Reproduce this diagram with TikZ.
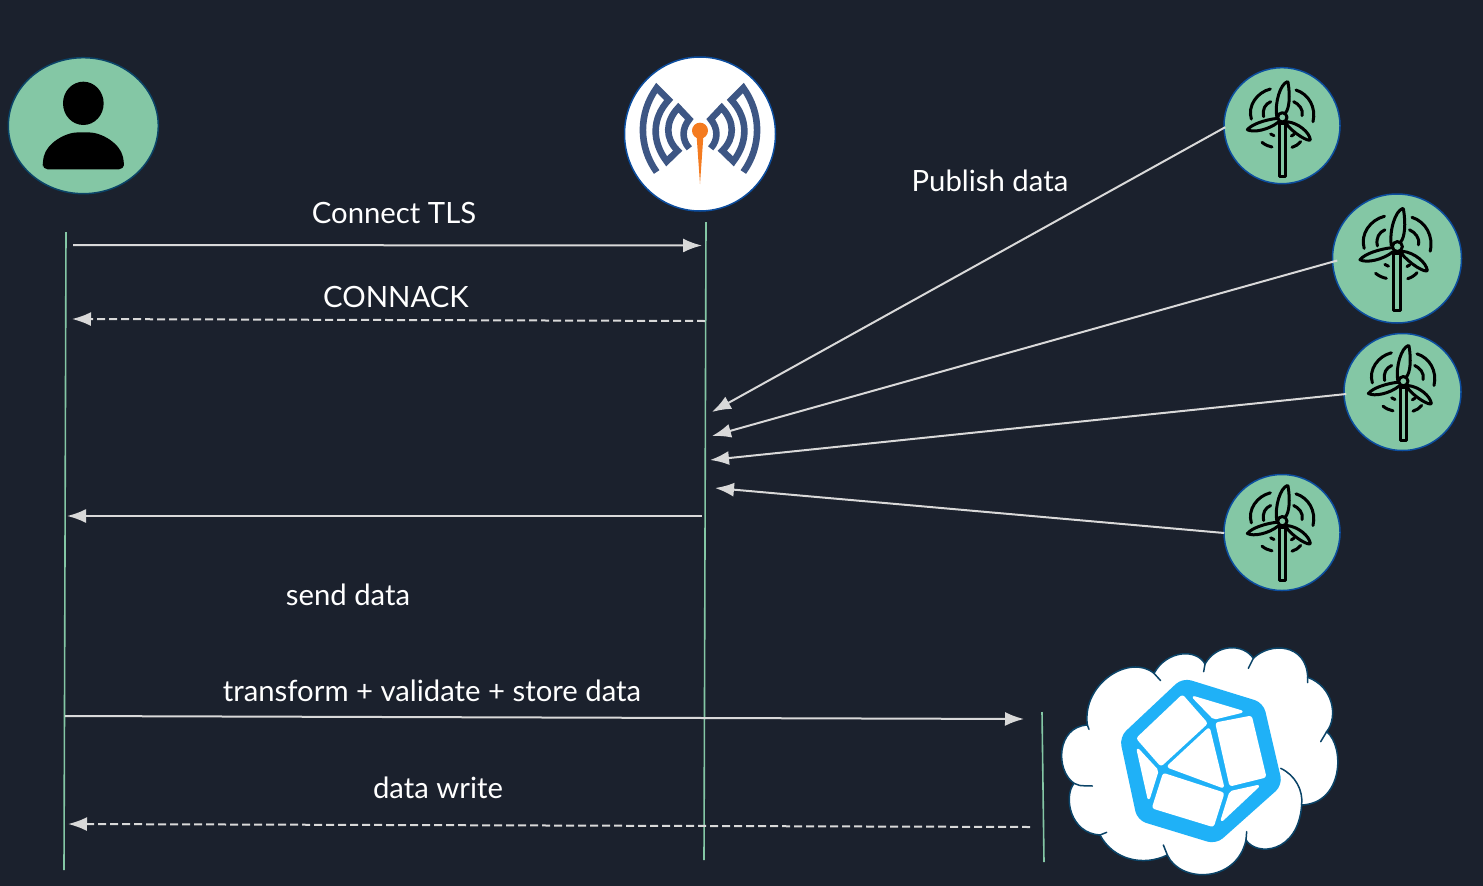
\documentclass[tikz,border=0pt]{standalone}
\usepackage{fontspec}
\setmainfont{Lato}
\usetikzlibrary{arrows.meta,shapes.geometric}
\definecolor{bgc}{HTML}{1B212D}
\definecolor{mint}{HTML}{84C7A5}
\definecolor{arrowc}{HTML}{D9D9D9}
\definecolor{edgeb}{HTML}{0C4D9E}
\definecolor{edgec}{HTML}{0B4468}
\definecolor{mosq}{HTML}{3D5684}
\definecolor{mosqo}{HTML}{F47B20}
\definecolor{sky}{HTML}{1FB1F7}
\tikzset{
  lifeline/.style={draw=mint,line width=1.6pt},
  msg/.style={draw=arrowc,line width=2pt,-{Latex[length=19pt,width=14pt]}},
  reply/.style={msg,dash pattern=on 8pt off 4pt},
  lbl/.style={text=white,font=\fontsize{29.3}{35}\selectfont,inner sep=0pt,anchor=center},
  farm/.style={circle,fill=mint,draw=edgeb,line width=1.5pt,inner sep=0pt},
  ink/.style={draw=black,line width=3pt,line cap=round,line join=round},
  face/.style={fill=white,draw=white,line width=2pt,line join=round,rounded corners=2pt},
}
\newcommand{\turbineicon}[3]{%
\begin{scope}[shift={(#1,#2)},x=#3pt/3,y=-#3pt/3]
  \draw[ink] (-9,-7) rectangle (10,153);
  \draw[ink,fill=mint] (-16,-28) .. controls (-22,-70) and (-5,-125) .. (16,-132) -- (18,-130) .. controls (25,-90) and (22,-50) .. (10,-38);
  \draw[ink,fill=mint] (-14,-22) .. controls (-50,-18) and (-90,-5) .. (-104,12) .. controls (-85,22) and (-40,12) .. (-12,-10);
  \draw[ink,fill=mint] (15,-12) .. controls (50,-8) and (82,20) .. (85,42) .. controls (82,50) and (35,25) .. (10,-9);
  \draw[ink,fill=mint] (1,-25) circle[radius=14];
  \draw[ink] (-92,-20) .. controls (-104,-60) and (-75,-100) .. (-35,-110);
  \draw[ink] (42,-107) .. controls (80,-95) and (103,-55) .. (93,-12);
  \draw[ink] (-55,-27) .. controls (-60,-50) and (-50,-65) .. (-34,-72);
  \draw[ink] (35,-72) .. controls (50,-65) and (65,-50) .. (60,-30);
  \draw[ink] (-60,50) .. controls (-50,58) and (-40,62) .. (-30,64);
  \draw[ink] (30,65) .. controls (40,62) and (50,56) .. (56,48);
  \draw[ink] (-34,25) -- (-24,30);
  \draw[ink] (28,31) -- (36,26);
\end{scope}}
\begin{document}
\begin{tikzpicture}[x=1pt,y=-1pt]
\useasboundingbox[fill=bgc] (0,0) rectangle (1483,886);

% Lifeline end points
\coordinate (ua) at (66,232);   \coordinate (ub) at (64,870);
\coordinate (ba) at (706,222);  \coordinate (bb) at (704,860);
\coordinate (da) at (1042,712); \coordinate (db) at (1044,862);
% Message end points
\coordinate (m1s) at (73,245);    \coordinate (m1e) at (702,245.5);
\coordinate (m2s) at (705,321);   \coordinate (m2e) at (72,319);
\coordinate (m3s) at (702,516);   \coordinate (m3e) at (67,516);
\coordinate (m4s) at (65,716);    \coordinate (m4e) at (1024,719);
\coordinate (m5s) at (1030,827);  \coordinate (m5e) at (68,824);
\coordinate (p1e) at (712,412);   \coordinate (p2e) at (712,436);
\coordinate (p3e) at (710,460);   \coordinate (p4e) at (715,488);

% Participants
\node[ellipse,fill=mint,draw=edgec,line width=1.5pt,minimum width=150pt,minimum height=136pt,inner sep=0pt] (user) at (83.3,125.7) {};
\node[ellipse,fill=white,draw=edgeb,line width=1.5pt,minimum width=151pt,minimum height=154pt,inner sep=0pt] (broker) at (700,134) {};
\node[farm,minimum size=116pt] (t1) at (1282,125.7) {};
\node[farm,minimum size=129pt] (t2) at (1397,258.5) {};
\node[farm,minimum size=117pt] (t3) at (1402.5,392) {};
\node[farm,minimum size=116pt] (t4) at (1282,532.5) {};

% User icon
\begin{scope}[shift={(0,50)},x=1pt/3,y=-1pt/3]
  \fill[black] (250,160) ellipse[x radius=61,y radius=65];
  \fill[black,rounded corners=5pt] (128,358) -- (128,335) .. controls (140,280) and (195,247) .. (250,247) .. controls (305,247) and (360,280) .. (372,335) -- (372,358) -- cycle;
\end{scope}

% Broker icon
\begin{scope}[shift={(610,40)},x=1pt/3,y=-1pt/3]
  \foreach \o/\mm in {0/0.33333,540/-0.33333}{
  \begin{scope}[shift={(\o,0)},x=\mm pt]
    \draw[mosq,line width=6.6pt,line join=miter]
      (140,396) .. controls (85,320) and (85,220) .. (140,144) -- (176,180)
      .. controls (125,235) and (125,305) .. (170,364) -- (203,332)
      .. controls (165,295) and (165,245) .. (205,203) -- (238,238)
      .. controls (215,265) and (215,300) .. (238,325);
  \end{scope}}
  \fill[mosqo] (270,272) circle[radius=24];
  \fill[mosqo] (260,290) -- (280,290) -- (270,432) -- cycle;
\end{scope}

% Turbines
\turbineicon{1282}{125.7}{1}
\turbineicon{1397}{255.5}{1.07}
\turbineicon{1403}{389.5}{1}
\turbineicon{1282}{529.5}{1}

% Cloud + database icon
\begin{scope}[shift={(1050,640)},x=1pt/3,y=-1pt/3]
  \draw[fill=white,draw=edgec,line width=1.5pt]
    (112,255) .. controls (95,130) and (240,40) .. (312,100)
    .. controls (350,30) and (440,25) .. (465,72)
    .. controls (500,10) and (580,10) .. (610,55)
    .. controls (660,5) and (770,10) .. (773,112)
    .. controls (850,140) and (865,230) .. (830,275)
    .. controls (885,320) and (880,490) .. (755,495)
    .. controls (745,640) and (620,650) .. (588,600)
    .. controls (560,730) and (390,730) .. (352,645)
    .. controls (280,680) and (190,660) .. (150,585)
    .. controls (60,580) and (40,470) .. (72,430)
    .. controls (15,390) and (20,260) .. (112,255) -- cycle;
  \draw[edgec,line width=1.5pt,line cap=round]
    (312,100) -- (332,122) (465,72) -- (461,95) (610,55) -- (595,85) (773,112) -- (773,128)
    (830,275) -- (812,305) (588,600) -- (590,575) (352,645) -- (340,615) (150,585) -- (170,577)
    (72,430) .. controls (85,437) .. (127,438) (112,255) -- (117,268)
    (692,385) .. controls (735,405) and (760,450) .. (755,495);
  \fill[sky,draw=sky,line width=4pt,line join=round,rounded corners=8pt]
    (399,120) -- (635,193) -- (691,433) -- (497,606) -- (267,536) -- (215,293) -- cycle;
  \fill[face] (397,167) -- (470,250) -- (333,376) -- (262,295) -- cycle;
  \fill[face] (428,170) -- (578,215) -- (492,236) -- cycle;
  \fill[face] (499,250) -- (603,230) -- (646,410) -- (541,436) -- cycle;
  \fill[face] (477,265) -- (353,380) -- (520,442) -- cycle;
  \fill[face] (341,402) -- (520,460) -- (489,558) -- (309,503) -- cycle;
  \fill[face] (262,326) -- (323,392) -- (296,478) -- cycle;
  \fill[face] (541,456) -- (627,437) -- (514,543) -- cycle;
\end{scope}

% Lifelines
\draw[lifeline] (ua) -- (ub);
\draw[lifeline] (ba) -- (bb);
\draw[lifeline] (da) -- (db);

% Messages
\draw[msg] (m1s) -- (m1e);
\draw[reply] (m2s) -- (m2e);
\draw[msg] (m3s) -- (m3e);
\draw[msg] (m4s) -- (m4e);
\draw[reply] (m5s) -- (m5e);
\draw[msg] (t1.west) ++(2,1.5) -- (p1e);
\draw[msg] (t2.west) ++(5.5,2) -- (p2e);
\draw[msg] (t3.west) ++(3,2) -- (p3e);
\draw[msg] (t4.west) ++(1,0.5) -- (p4e);

% Labels
\node[lbl] (l1) at (394,213) {Connect TLS};
\node[lbl] (l2) at (396,297) {CONNACK};
\node[lbl] (l3) at (348,595) {send data};
\node[lbl] (l4) at (432,691) {transform + validate + store data};
\node[lbl] (l5) at (438,788) {data write};
\node[lbl] (l6) at (990,181) {Publish data};
\end{tikzpicture}
\end{document}
